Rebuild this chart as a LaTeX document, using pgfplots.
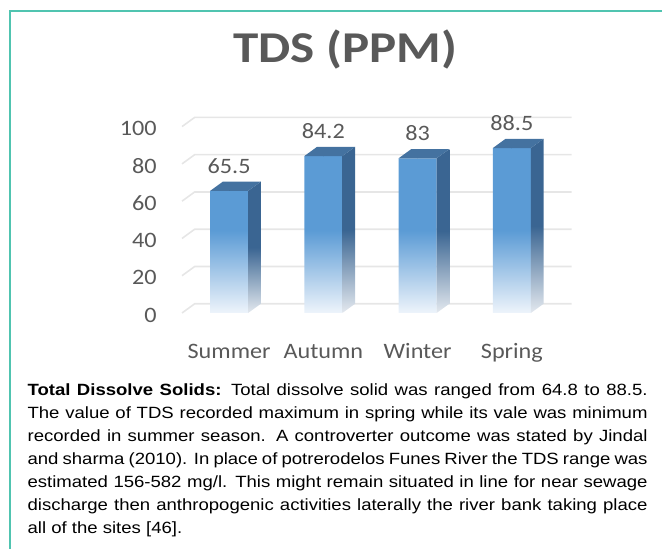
\documentclass[border=0pt]{standalone}
\usepackage{fontspec}
\setmainfont{Liberation Sans}
\newfontfamily\chartfont[FakeStretch=1.1]{Carlito}
\newfontfamily\titlefont[FakeStretch=1.16]{Carlito}
\newfontfamily\bodyfont[FakeStretch=1.14]{Liberation Sans}
\usepackage{pgfplots}
\pgfplotsset{compat=1.18}
\definecolor{frontc}{HTML}{5B9BD5}
\definecolor{frontbot}{HTML}{EEF4FB}
\definecolor{sidec}{HTML}{3A6592}
\definecolor{sidebot}{HTML}{E4E9EF}
\definecolor{topc}{HTML}{4472A0}
\definecolor{gridc}{HTML}{E6E6E6}
\definecolor{labc}{HTML}{595959}
\definecolor{bordc}{RGB}{80,196,176}
\begin{document}
\begin{tikzpicture}
\draw[bordc, line width=1.1pt] (7.5pt,-2pt) -- (7.5pt,403.5pt) -- (500pt,403.5pt);
\node[anchor=base, text=labc, font=\titlefont\bfseries\fontsize{33}{36}\selectfont, inner sep=0pt] at (259.1pt,364.5pt) {TDS (PPM)};
\begin{axis}[
  set layers,
  at={(136.5pt,177pt)}, anchor=south west,
  x=70.6875pt, y=1.398pt,
  xmin=-0.5, xmax=3.5, ymin=0, ymax=100,
  axis line style={draw=none},
  major tick length=0pt,
  xtick={0,1,2,3},
  xticklabels={Summer,Autumn,Winter,Spring},
  ytick={0,20,40,60,80,100},
  tick label style={font=\chartfont\fontsize{16.5}{19}\selectfont, text=labc, inner sep=0pt},
  /pgf/number format/assume math mode=true,
  yticklabel style={anchor=east, xshift=-18.75pt, yshift=-1.5pt},
  xticklabel style={anchor=base, yshift=-34.5pt},
  clip=false,
]
\begin{pgfonlayer}{axis background}
\pgfplotsinvokeforeach{0,20,40,60,80,100}{
  \draw[gridc, line width=1.2pt] (axis cs:-0.5,#1) -- ++(9.5pt,6.9pt) -- ([xshift=9.5pt,yshift=6.9pt]axis cs:3.5,#1);
}
\end{pgfonlayer}
% front faces
\addplot[ybar, bar width=28.5pt, draw=none, top color=frontc, bottom color=frontbot, middle color=frontc]
  coordinates {(0,65.5) (1,84.2) (2,83) (3,88.5)};
% side and top faces
\addplot[scatter, only marks, mark=*, mark size=0pt, mark options={draw=none,fill=none},
  visualization depends on={rawy \as \h},
  scatter/@pre marker code/.code={%
    \pgfmathsetmacro\hb{6.9-\h*1.398}%
    \pgfmathsetmacro\hf{-\h*1.398}%
    \shade[draw=none, top color=sidec, bottom color=sidebot, middle color=sidec] (14.25pt,0pt) -- (23.75pt,6.9pt) -- (23.75pt,\hb pt) -- (14.25pt,\hf pt) -- cycle;
    \fill[draw=none, topc] (-14.25pt,0pt) -- (14.25pt,0pt) -- (23.75pt,6.9pt) -- (-4.75pt,6.9pt) -- cycle;
  },
  scatter/@post marker code/.code={},
  ]
  coordinates {(0,65.5) (1,84.2) (2,83) (3,88.5)};
% value labels
\addplot[only marks, mark=*, mark size=0pt, mark options={draw=none,fill=none},
  nodes near coords,
  nodes near coords style={font=\chartfont\fontsize{16.5}{19}\selectfont, text=labc, anchor=base, yshift=13pt, inner sep=0pt},
  ]
  coordinates {(0,65.5) (1,84.2) (2,83) (3,88.5)};
\end{axis}
\node[anchor=north west, inner sep=0pt, text width=465pt, align=justify, font=\bodyfont\fontsize{12.2}{17.25}\selectfont] at (20.5pt,124.4pt) {\hyphenpenalty=10000\textbf{Total Dissolve Solids:} Total dissolve solid was ranged from 64.8 to 88.5.\linebreak
The value of TDS recorded maximum in spring while its vale was minimum\linebreak
recorded in summer season. A controverter outcome was stated by Jindal\linebreak
and sharma (2010). In place of potrerodelos Funes River the TDS range was\linebreak
estimated 156-582 mg/l. This might remain situated in line for near sewage\linebreak
discharge then anthropogenic activities laterally the river bank taking place\linebreak
all of the sites [46].};
\pgfresetboundingbox
\useasboundingbox (0,0) rectangle (496.5pt,411.75pt);
\end{tikzpicture}
\end{document}
